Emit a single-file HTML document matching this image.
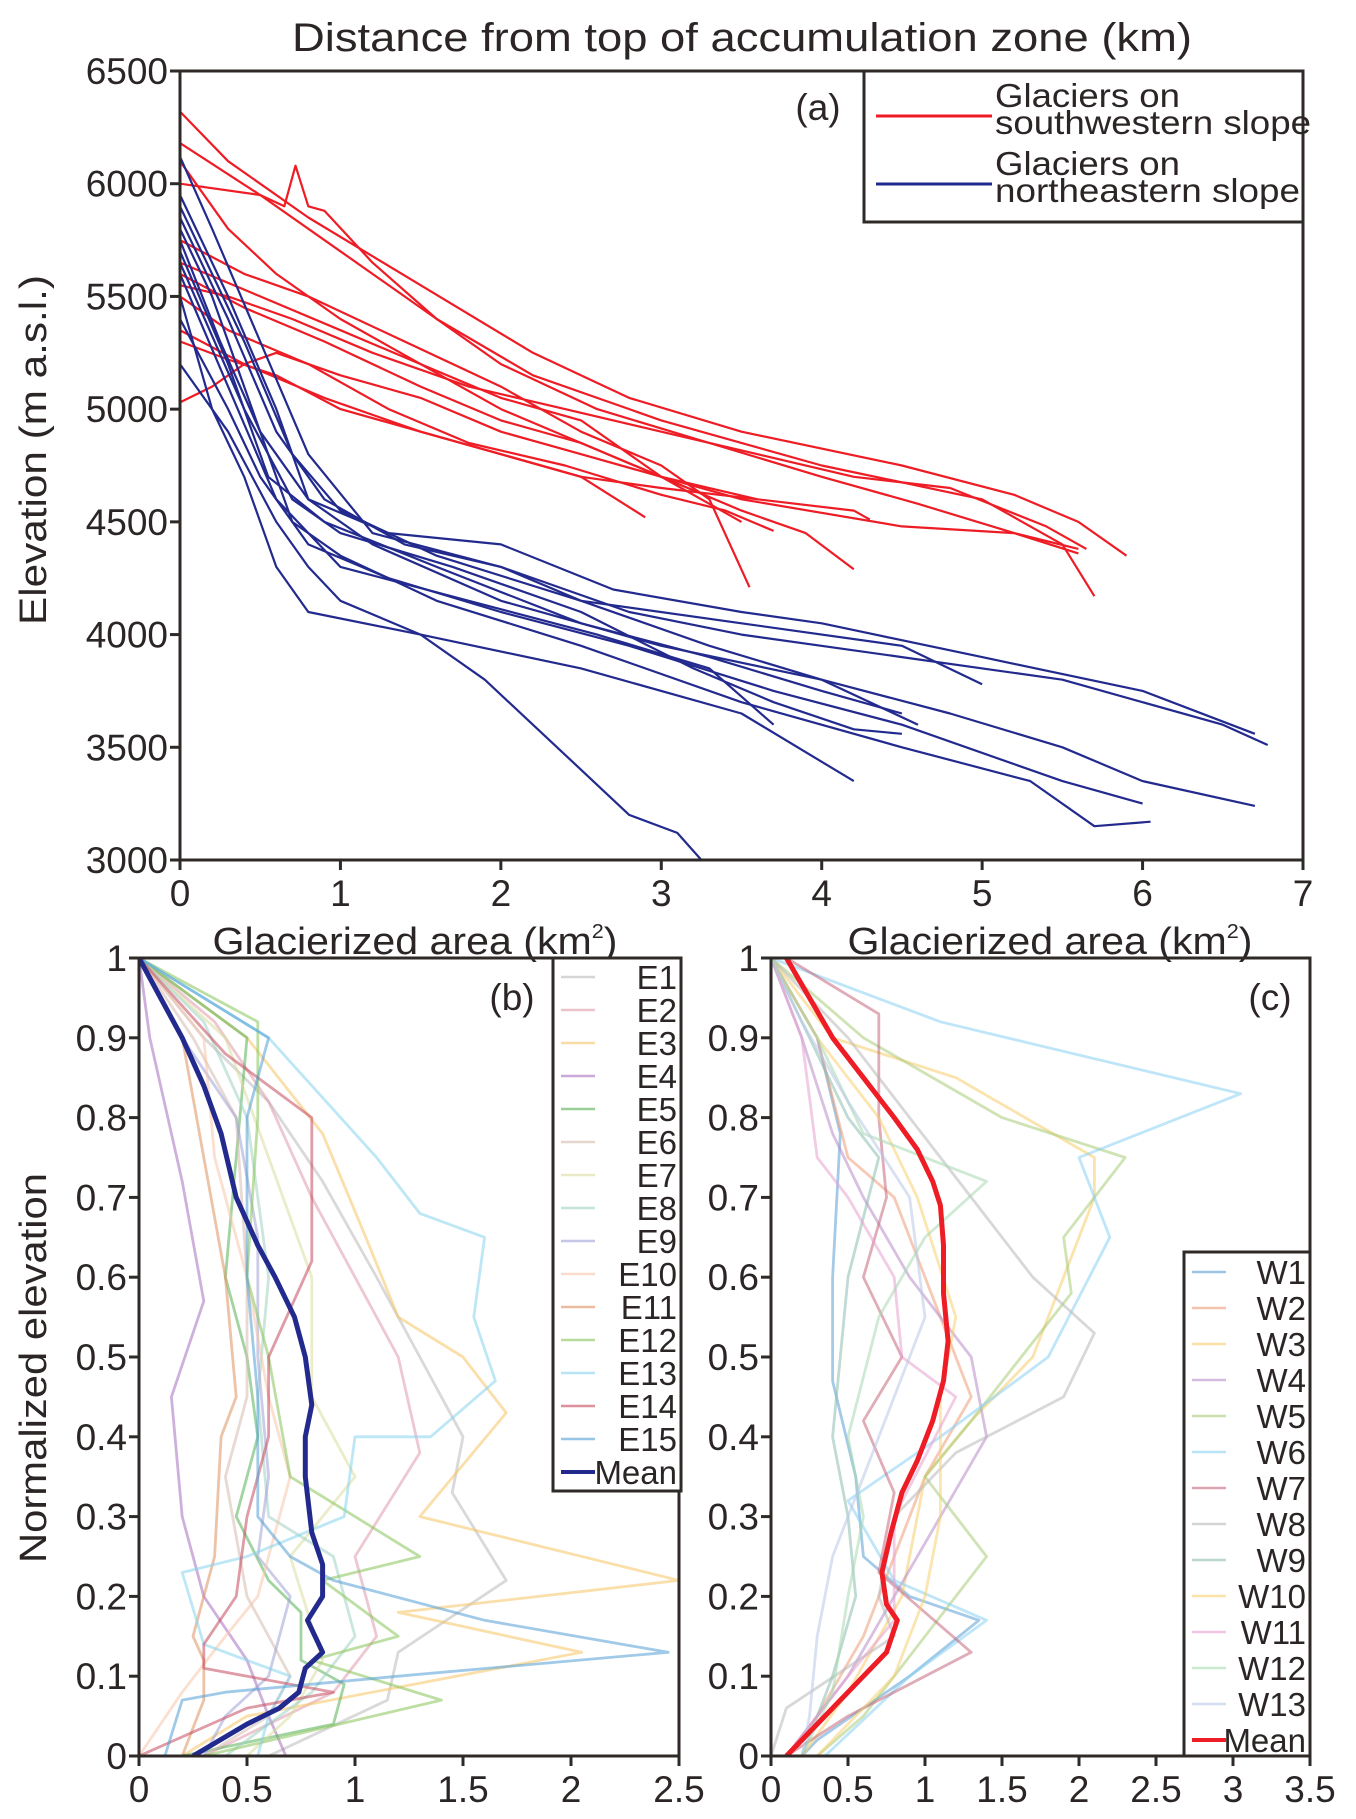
<!DOCTYPE html>
<html><head><meta charset="utf-8"><style>
html,body{margin:0;padding:0;background:#fff}
svg{display:block}
text{font-family:"Liberation Sans",sans-serif;fill:#2b2625}
</style></head><body>
<svg id="chart" width="1356" height="1819" viewBox="0 0 1356 1819" xmlns="http://www.w3.org/2000/svg">
<text x="742" y="51" font-size="40" text-anchor="middle" textLength="900" lengthAdjust="spacingAndGlyphs">Distance from top of accumulation zone (km)</text>
<text x="415" y="954" font-size="38" text-anchor="middle" textLength="405" lengthAdjust="spacingAndGlyphs">Glacierized area (km<tspan font-size="20" dy="-16">2</tspan><tspan dy="16">)</tspan></text>
<text x="1050" y="954" font-size="38" text-anchor="middle" textLength="405" lengthAdjust="spacingAndGlyphs">Glacierized area (km<tspan font-size="20" dy="-16">2</tspan><tspan dy="16">)</tspan></text>
<text transform="translate(46,450) rotate(-90)" font-size="38" text-anchor="middle" textLength="350" lengthAdjust="spacingAndGlyphs">Elevation (m a.s.l.)</text>
<text transform="translate(46,1368) rotate(-90)" font-size="38" text-anchor="middle" textLength="390" lengthAdjust="spacingAndGlyphs">Normalized elevation</text>
<g id="ga"></g>
<g id="gb"></g>
<g id="gc"></g>
</svg>
<script>
// ---------- Panel A data ----------
const aXTicks=[0,1,2,3,4,5,6,7];
const aYTicks=[3000,3500,4000,4500,5000,5500,6000,6500];
const redR1=[[0,6320],[0.3,6100],[0.8,5850],[1.5,5550],[2.2,5250],[2.8,5050],[3.5,4900],[4.5,4750],[5.2,4620],[5.6,4500],[5.9,4350]];
const redR2=[[0,6180],[0.5,5950],[1,5700],[1.6,5400],[2.2,5150],[3,4950],[4,4750],[5,4600],[5.5,4400],[5.7,4170]];
const redR3=[[0,6000],[0.5,5950],[0.65,5900],[0.72,6080],[0.8,5900],[0.9,5880],[1.2,5650],[1.6,5400],[2,5200],[2.6,5000],[3.3,4850],[4,4700],[4.6,4580],[5.2,4450],[5.6,4360]];
const redR4=[[0,6100],[0.3,5800],[0.6,5600],[1,5400],[1.5,5200],[2,5050],[2.5,4950],[3,4700],[3.5,4550],[3.9,4450],[4.2,4290]];
const redR5=[[0,5750],[0.4,5600],[0.8,5500],[1.4,5300],[2,5100],[2.5,4900],[3,4750],[3.3,4600],[3.55,4210]];
const redR6=[[0,5650],[0.5,5500],[1,5350],[1.5,5200],[2,5000],[2.5,4850],[3,4700],[3.6,4600],[4.2,4550],[4.3,4510]];
const redR7=[[0,5600],[0.4,5450],[0.9,5300],[1.5,5100],[2,4950],[2.5,4850],[3,4700],[3.5,4600],[4.5,4480],[5.2,4450],[5.6,4380]];
const redR8=[[0,5500],[0.3,5350],[0.8,5200],[1.3,5000],[1.8,4850],[2.4,4750],[3,4620],[3.4,4550],[3.7,4460]];
const redR9=[[0,5350],[0.4,5200],[0.9,5050],[1.5,4900],[2,4800],[2.5,4700],[2.9,4520]];
const redR10=[[0,5300],[0.3,5220],[0.6,5150],[1,5000],[1.5,4900],[2,4800],[2.5,4700],[3,4650],[3.6,4600]];
const redR11=[[0,5030],[0.2,5100],[0.4,5200],[0.6,5250],[1,5150],[1.5,5050],[2,4900],[2.5,4800],[3,4700],[3.5,4500]];
const redR12=[[0,5550],[0.3,5500],[0.7,5400],[1.2,5250],[1.8,5100],[2.4,5000],[3,4900],[3.6,4800],[4.2,4700],[4.8,4650],[5.4,4480],[5.65,4380]];
const blueB1=[[0,6120],[0.2,5800],[0.5,5300],[0.8,4800],[1.2,4450],[2,4300],[2.8,4100],[3.5,4000],[4.5,3900],[5.5,3800],[6.5,3600],[6.78,3510]];
const blueB2=[[0,5950],[0.3,5500],[0.6,5000],[0.8,4600],[1.2,4400],[2,4150],[3,3950],[4,3800],[4.8,3650],[5.5,3500],[6,3350],[6.7,3240]];
const blueB3=[[0,5800],[0.2,5500],[0.5,4900],[0.7,4500],[1,4350],[1.6,4150],[2.5,3950],[3.5,3700],[4.5,3500],[5.3,3350],[5.7,3150],[6.05,3170]];
const blueB4=[[0,5700],[0.3,5200],[0.55,4700],[0.9,4500],[1.6,4300],[2.5,4050],[3.3,3900],[4,3750],[4.5,3650]];
const blueB5=[[0,5500],[0.2,5000],[0.4,4700],[0.6,4300],[0.8,4100],[1.5,4000],[2.5,3850],[3.5,3650],[4.2,3350]];
const blueB6=[[0,5600],[0.3,5100],[0.6,4600],[1,4300],[1.8,4150],[2.6,4000],[3.3,3850],[3.7,3600]];
const blueB7=[[0,5850],[0.3,5400],[0.6,4900],[0.9,4600],[1.4,4400],[2,4300],[2.5,4150],[3.5,4050],[4.5,3950],[5,3780]];
const blueB8=[[0,5200],[0.3,4900],[0.6,4500],[0.8,4300],[1,4150],[1.5,4000],[1.9,3800],[2.2,3600],[2.5,3400],[2.8,3200],[3.1,3120],[3.25,3000]];
const blueB9=[[0,5750],[0.25,5300],[0.5,4900],[0.8,4600],[1.3,4450],[2,4400],[2.7,4200],[3.5,4100],[4,4050],[5,3900],[6,3750],[6.7,3560]];
const blueB10=[[0,5400],[0.3,5000],[0.5,4700],[0.8,4400],[1.3,4250],[2,4100],[2.8,3950],[3.7,3750],[4.5,3600],[5.5,3350],[6,3250]];
const blueB11=[[0,5650],[0.4,5000],[0.7,4600],[1,4450],[1.7,4300],[2.5,4100],[3.2,3850],[3.7,3700],[4.2,3580],[4.5,3560]];
const blueB12=[[0,5900],[0.4,5300],[0.7,4800],[1,4550],[1.6,4350],[2.5,4150],[3.3,3950],[4,3800],[4.6,3600]];
const redSeries=[redR1,redR2,redR3,redR4,redR5,redR6,redR7,redR8,redR9,redR10,redR11,redR12];
const blueSeries=[blueB1,blueB2,blueB3,blueB4,blueB5,blueB6,blueB7,blueB8,blueB9,blueB10,blueB11,blueB12];

// ---------- Panel B data ----------
const bXTicks=[0,0.5,1,1.5,2,2.5];
const normTicks=[0,0.1,0.2,0.3,0.4,0.5,0.6,0.7,0.8,0.9,1];
const bLabels=["E1","E2","E3","E4","E5","E6","E7","E8","E9","E10","E11","E12","E13","E14","E15"];
const bColors=["#b9b9b9","#e09aac","#f5c565","#a66fc0","#55b055","#d6bcae","#d8dc9e","#9fd2c2","#a0a2d6","#f7c4aa","#de915e","#88c45a","#88d4ee","#c4485c","#529fd4"];
const sE1=[[0,1],[0.3,0.9],[0.6,0.82],[0.85,0.72],[1.1,0.6],[1.3,0.5],[1.5,0.4],[1.45,0.33],[1.7,0.22],[1.2,0.13],[1.15,0.07],[0.6,0]];
const sE2=[[0,1],[0.35,0.92],[0.6,0.82],[0.8,0.7],[1.0,0.6],[1.2,0.5],[1.3,0.38],[1.0,0.25],[1.1,0.15],[0.9,0.08],[0.3,0]];
const sE3=[[0,1],[0.5,0.9],[0.85,0.78],[1.05,0.65],[1.2,0.55],[1.5,0.5],[1.7,0.43],[1.3,0.3],[2.5,0.22],[1.2,0.18],[2.05,0.13],[0.5,0.05],[0.2,0]];
const sE4=[[0,1],[0.05,0.9],[0.2,0.72],[0.3,0.57],[0.15,0.45],[0.2,0.3],[0.3,0.2],[0.5,0.12],[0.6,0.05],[0.68,0]];
const sE5=[[0,1],[0.5,0.9],[0.45,0.75],[0.4,0.6],[0.5,0.5],[0.55,0.4],[0.45,0.3],[0.6,0.22],[0.75,0.18],[0.75,0.12],[0.95,0.09],[0.9,0.04],[0.2,0]];
const sE6=[[0,1],[0.25,0.9],[0.45,0.8],[0.5,0.6],[0.5,0.45],[0.4,0.35],[0.5,0.2],[0.7,0.1],[0.6,0.05],[0.3,0]];
const sE7=[[0,1],[0.4,0.9],[0.6,0.75],[0.8,0.6],[0.8,0.45],[1.0,0.35],[0.7,0.25],[0.85,0.12],[0.7,0.05],[0.5,0]];
const sE8=[[0,1],[0.3,0.92],[0.5,0.8],[0.6,0.6],[0.55,0.45],[0.6,0.3],[0.9,0.25],[1.0,0.15],[0.8,0.08],[0.4,0]];
const sE9=[[0,1],[0.2,0.9],[0.45,0.8],[0.55,0.65],[0.55,0.5],[0.6,0.35],[0.55,0.25],[0.7,0.2],[0.6,0.1],[0.4,0.05],[0.3,0]];
const sE10=[[0,1],[0.3,0.9],[0.35,0.75],[0.5,0.6],[0.6,0.45],[0.7,0.35],[0.55,0.2],[0.4,0.15],[0.2,0.08],[0,0]];
const sE11=[[0,1],[0.2,0.9],[0.3,0.75],[0.4,0.6],[0.45,0.45],[0.38,0.4],[0.35,0.25],[0.25,0.15],[0.3,0.12],[0.3,0.07],[0.2,0]];
const sE12=[[0,1],[0.55,0.92],[0.55,0.8],[0.5,0.6],[0.6,0.5],[0.7,0.35],[1.0,0.3],[1.3,0.25],[0.85,0.22],[1.2,0.15],[0.8,0.12],[1.4,0.07],[0.3,0]];
const sE13=[[0,1],[0.6,0.9],[1.1,0.75],[1.3,0.68],[1.6,0.65],[1.55,0.55],[1.65,0.47],[1.35,0.4],[1.0,0.4],[0.95,0.3],[0.5,0.25],[0.2,0.23],[0.3,0.14],[0.7,0.1],[0.6,0.05],[0.55,0]];
const sE14=[[0,1],[0.4,0.88],[0.8,0.8],[0.8,0.62],[0.6,0.5],[0.6,0.4],[0.5,0.3],[0.45,0.2],[0.3,0.14],[0.3,0.11],[0.9,0.08],[0.5,0.06],[0,0]];
const sE15=[[0,1],[0.6,0.9],[0.5,0.8],[0.5,0.6],[0.55,0.45],[0.55,0.3],[0.7,0.25],[0.9,0.22],[1.6,0.17],[2.45,0.13],[1.2,0.1],[0.4,0.08],[0.2,0.07],[0.12,0]];
const meanE=[[0,1],[0.1,0.95],[0.2,0.9],[0.3,0.84],[0.38,0.78],[0.45,0.7],[0.55,0.64],[0.63,0.6],[0.72,0.55],[0.77,0.5],[0.8,0.44],[0.77,0.4],[0.77,0.35],[0.8,0.28],[0.85,0.24],[0.85,0.2],[0.78,0.17],[0.85,0.13],[0.77,0.11],[0.74,0.08],[0.65,0.06],[0.5,0.04],[0.25,0]];
const eSeries=[sE1,sE2,sE3,sE4,sE5,sE6,sE7,sE8,sE9,sE10,sE11,sE12,sE13,sE14,sE15];

// ---------- Panel C data ----------
const cXTicks=[0,0.5,1,1.5,2,2.5,3,3.5];
const cLabels=["W1","W2","W3","W4","W5","W6","W7","W8","W9","W10","W11","W12","W13"];
const cColors=["#5a9fd4","#ee9d78","#f7cc6a","#b88cc8","#a8cc78","#8ad2f2","#c4687c","#b8b8b8","#8cbcb0","#f8d070","#e8a0d0","#a8d8b0","#b8c8e8"];
const sW1=[[0,1],[0.3,0.9],[0.45,0.78],[0.4,0.6],[0.4,0.47],[0.55,0.35],[0.6,0.25],[0.9,0.2],[1.35,0.17],[0.9,0.1],[0.3,0.02],[0.2,0]];
const sW2=[[0,1],[0.3,0.9],[0.5,0.75],[0.8,0.7],[1.1,0.55],[1.3,0.45],[1.0,0.35],[0.8,0.25],[0.6,0.15],[0.3,0.05],[0.1,0]];
const sW3=[[0,1],[0.4,0.9],[1.2,0.85],[2.1,0.75],[2.1,0.7],[1.7,0.5],[1.3,0.42],[1.0,0.35],[0.85,0.2],[0.5,0.08],[0.2,0]];
const sW4=[[0,1],[0.2,0.9],[0.4,0.78],[0.6,0.7],[0.9,0.6],[1.3,0.5],[1.4,0.4],[1.1,0.3],[0.8,0.2],[0.5,0.1],[0.1,0]];
const sW5=[[0,1],[0.6,0.9],[1.5,0.8],[2.3,0.75],[1.9,0.65],[1.95,0.58],[1.3,0.42],[1.0,0.35],[1.4,0.25],[1.0,0.15],[0.6,0.05],[0.3,0]];
const sW6=[[0,1],[1.1,0.92],[3.05,0.83],[2.0,0.75],[2.2,0.65],[1.8,0.5],[1.1,0.4],[0.5,0.32],[0.8,0.22],[1.4,0.17],[0.9,0.1],[0.35,0]];
const sW7=[[0.1,1],[0.7,0.93],[0.7,0.8],[0.75,0.7],[0.6,0.6],[0.85,0.5],[0.6,0.42],[0.8,0.33],[0.7,0.23],[1.3,0.13],[0.5,0.05],[0.1,0]];
const sW8=[[0,1],[0.5,0.9],[0.9,0.8],[1.3,0.7],[1.7,0.6],[2.1,0.53],[1.9,0.45],[1.2,0.38],[0.8,0.3],[0.7,0.2],[0.8,0.15],[0.1,0.06],[0,0]];
const sW9=[[0,1],[0.25,0.9],[0.5,0.8],[0.7,0.75],[0.5,0.6],[0.45,0.5],[0.4,0.4],[0.5,0.3],[0.55,0.2],[0.4,0.1],[0.3,0.05],[0.2,0]];
const sW10=[[0,1],[0.3,0.9],[0.7,0.8],[0.95,0.7],[1.2,0.55],[1.1,0.45],[1.1,0.3],[1.0,0.2],[0.8,0.1],[0.3,0]];
const sW11=[[0,1],[0.2,0.9],[0.3,0.75],[0.5,0.7],[0.8,0.6],[0.85,0.5],[1.2,0.45],[0.8,0.3],[0.8,0.17],[0.5,0.1],[0.1,0]];
const sW12=[[0,1],[0.3,0.9],[0.6,0.78],[1.4,0.72],[1.0,0.65],[0.7,0.55],[0.5,0.4],[0.6,0.3],[0.5,0.2],[0.4,0.08],[0.2,0]];
const sW13=[[0,1],[0.2,0.92],[0.5,0.82],[0.9,0.7],[1.0,0.55],[0.8,0.45],[0.6,0.35],[0.4,0.25],[0.3,0.15],[0.25,0.05],[0.2,0]];
const meanW=[[0.1,1],[0.25,0.95],[0.4,0.9],[0.6,0.85],[0.8,0.8],[0.95,0.76],[1.05,0.72],[1.1,0.69],[1.12,0.64],[1.12,0.58],[1.15,0.52],[1.12,0.47],[1.05,0.42],[0.95,0.37],[0.85,0.33],[0.78,0.28],[0.72,0.23],[0.75,0.19],[0.82,0.17],[0.75,0.13],[0.55,0.09],[0.35,0.05],[0.1,0]];
const wSeries=[sW1,sW2,sW3,sW4,sW5,sW6,sW7,sW8,sW9,sW10,sW11,sW12,sW13];

const NS="http://www.w3.org/2000/svg";
const AX="#2f2a28";
function mk(parent,tag,attrs){const e=document.createElementNS(NS,tag);for(const k in attrs)e.setAttribute(k,attrs[k]);parent.appendChild(e);return e;}
function lin(d0,d1,r0,r1){return v=>r0+(v-d0)*(r1-r0)/(d1-d0);}
function pathD(pts,sx,sy){return pts.map((p,i)=>(i?"L":"M")+sx(p[0]).toFixed(1)+" "+sy(p[1]).toFixed(1)).join("");}

function frame(g,L,R,T,B,sx,sy,xt,yt,yFmt,xFmt){
  const box=mk(g,"rect",{x:L,y:T,width:R-L,height:B-T,fill:"none",stroke:AX,"stroke-width":3});
  
  
  xt.forEach(v=>{
    const x=sx(v);
    const t=mk(g,"line",{x1:x,x2:x,y1:B,y2:B+10,stroke:AX,"stroke-width":3});
    
    
    const l=mk(g,"text",{x:x,y:B+46,"font-size":37,"text-anchor":"middle"});
    l.textContent=xFmt(v);
    
    
  });
  yt.forEach(v=>{
    const y=sy(v);
    const t=mk(g,"line",{x1:L-10,x2:L,y1:y,y2:y,stroke:AX,"stroke-width":3});
    
    
    const l=mk(g,"text",{x:L-12,y:y+13,"font-size":37,"text-anchor":"end"});
    l.textContent=yFmt(v);
    
    
  });
}
function fmtN(v){return String(v);}

// Panel A
(function(){
  const g=document.getElementById('ga');
  const L=180,R=1303,T=71,B=860;
  const sx=lin(0,7,L,R), sy=lin(3000,6500,B,T);
  const clip=mk(g,"clipPath",{id:"clipA"});mk(clip,"rect",{x:L,y:T,width:R-L,height:B-T});
  const lg=mk(g,"g",{"clip-path":"url(#clipA)"});
  redSeries.forEach(s=>{
    const p=mk(lg,"path",{d:pathD(s,sx,sy),fill:"none",stroke:"#ee1c25","stroke-width":2.2,"stroke-linejoin":"round"});
    
    
  });
  blueSeries.forEach(s=>{
    const p=mk(lg,"path",{d:pathD(s,sx,sy),fill:"none",stroke:"#232a8e","stroke-width":2.2,"stroke-linejoin":"round"});
    
    
  });
  frame(g,L,R,T,B,sx,sy,aXTicks,aYTicks,fmtN,fmtN);
  const lab=mk(g,"text",{x:818,y:120,"font-size":37,"text-anchor":"middle"});lab.textContent="(a)";
  
  
  const lb=mk(g,"g",{});
  
  
  mk(lb,"rect",{x:864,y:71,width:439,height:151,fill:"#fff",stroke:AX,"stroke-width":3});
  mk(lb,"line",{x1:876,x2:992,y1:116,y2:116,stroke:"#ee1c25","stroke-width":3});
  mk(lb,"line",{x1:876,x2:992,y1:184,y2:184,stroke:"#232a8e","stroke-width":3});
  [["Glaciers on",107,185],["southwestern slope",134,316],["Glaciers on",175,185],["northeastern slope",202,305]].forEach(a=>{
    const t=mk(lb,"text",{x:995,y:a[1],"font-size":33,textLength:a[2],lengthAdjust:"spacingAndGlyphs"});t.textContent=a[0];
    
    
  });
})();

function normPanel(gid,L,R,xmax,xt,series,colors,labels,mean,meanColor,legend,panelLabel,lx,clipId){
  const g=document.getElementById(gid);
  const T=958,B=1756;
  const sx=lin(0,xmax,L,R), sy=lin(0,1,B,T);
  const clip=mk(g,"clipPath",{id:clipId});mk(clip,"rect",{x:L,y:T,width:R-L,height:B-T});
  const lg=mk(g,"g",{"clip-path":"url(#"+clipId+")"});
  series.forEach((s,i)=>{
    const p=mk(lg,"path",{d:pathD(s,sx,sy),fill:"none",stroke:colors[i],"stroke-width":2.8,"stroke-opacity":0.55,"stroke-linejoin":"round"});
    
    
  });
  const m=mk(lg,"path",{d:pathD(mean,sx,sy),fill:"none",stroke:meanColor,"stroke-width":5,"stroke-linejoin":"round"});
  
  
  frame(g,L,R,T,B,sx,sy,xt,normTicks,fmtN,fmtN);
  const pl=mk(g,"text",{x:lx,y:1010,"font-size":37,"text-anchor":"middle"});pl.textContent=panelLabel;
  
  
  const lb=mk(g,"g",{});
  
  
  mk(lb,"rect",{x:legend.x,y:legend.y,width:legend.w,height:legend.h,fill:"#fff",stroke:AX,"stroke-width":3});
  labels.concat(["Mean"]).forEach((lab,i)=>{
    const y=legend.y0+i*legend.dy;
    const isMean=i===labels.length;
    const ln=mk(lb,"line",{x1:legend.x+8,x2:legend.x+42,y1:y,y2:y,stroke:isMean?meanColor:colors[i],"stroke-width":isMean?4:2.5,"stroke-opacity":isMean?1:0.6});
    
    
    const t=mk(lb,"text",{x:legend.x+legend.w-4,y:y+12,"font-size":33,"text-anchor":"end"});t.textContent=lab;
    
    
  });
}
normPanel('gb',139,679,2.5,bXTicks,eSeries,bColors,bLabels,meanE,"#232a8e",{x:553,y:958,w:128,h:533,y0:977,dy:33},"(b)",512,"clipB");
normPanel('gc',771,1310,3.5,cXTicks,wSeries,cColors,cLabels,meanW,"#ee1c25",{x:1184,y:1252,w:126,h:504,y0:1272,dy:36},"(c)",1270,"clipC");
</script>
</body></html>
